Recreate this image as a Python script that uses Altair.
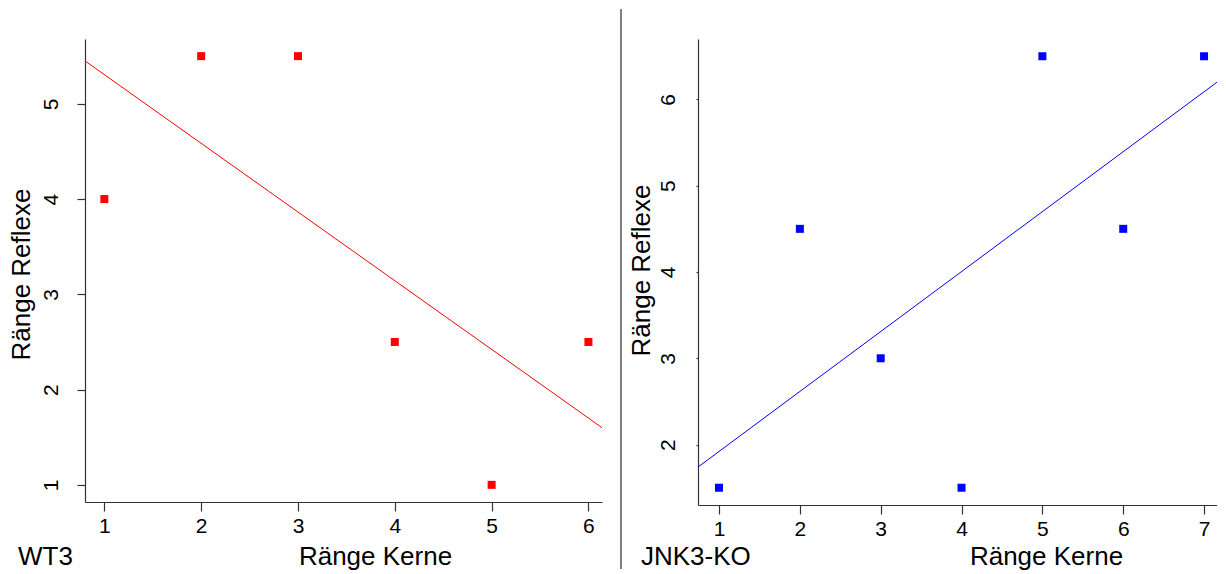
import altair as alt
import pandas as pd

# ---- data ----
wt_x = [1, 2, 3, 4, 5, 6]
wt_y = [4, 5.5, 5.5, 2.5, 1, 2.5]
ko_x = [1, 2, 3, 4, 5, 6, 7]
ko_y = [1.5, 4.5, 3, 1.5, 6.5, 4.5, 6.5]

wt_fit_x = [0.8, 6.14]
wt_fit_y = [5.45, 1.6]
ko_fit_x = [0.74, 7.16]
ko_fit_y = [1.74, 6.2]

wt_xticks = [1, 2, 3, 4, 5, 6]
wt_yticks = [1, 2, 3, 4, 5]
ko_xticks = [1, 2, 3, 4, 5, 6, 7]
ko_yticks = [2, 3, 4, 5, 6]

x_title = "Ränge Kerne"
y_title = "Ränge Reflexe"
panel_labels = ["WT3", "JNK3-KO"]

FONT = "Liberation Sans"
AXIS_COL = "#333333"


def panel(px, py, fx, fy, xdom, ydom, xticks, yticks, color, label,
          w, h, ytick, ylabpad, ytitlex, ytitley, xtitlex, xtitley,
          labx, laby, sep=None):
    pts = pd.DataFrame({"x": px, "y": py})
    fit = pd.DataFrame({"x": fx, "y": fy})
    xs = alt.Scale(domain=xdom, nice=False, zero=False)
    ys = alt.Scale(domain=ydom, nice=False, zero=False)
    xax = alt.Axis(values=xticks, format="d", grid=False, title=x_title,
                   domainColor=AXIS_COL, tickColor=AXIS_COL, domainWidth=1.2,
                   tickWidth=1.2, tickSize=9, labelFontSize=21, labelFont=FONT,
                   labelColor="black", labelPadding=4, labelFlush=False,
                   titleFont=FONT, titleFontSize=26, titleFontWeight="normal",
                   titleColor="black", titleAlign="center",
                   titleBaseline="alphabetic", titleX=xtitlex, titleY=xtitley)
    yax = alt.Axis(values=yticks, format="d", grid=False, title=y_title,
                   domainColor=AXIS_COL, tickColor=AXIS_COL, domainWidth=1.2,
                   tickWidth=1.2, tickSize=ytick, labelFontSize=21,
                   labelFont=FONT, labelColor="black", labelAngle=270,
                   labelAlign="center", labelBaseline="alphabetic",
                   labelPadding=ylabpad, labelFlush=False,
                   titleFont=FONT, titleFontSize=26, titleFontWeight="normal",
                   titleColor="black", titleAngle=270, titleAlign="center",
                   titleBaseline="alphabetic", titleX=ytitlex, titleY=ytitley)
    line = alt.Chart(fit).mark_line(color=color, strokeWidth=1, clip=True).encode(
        x=alt.X("x:Q", scale=xs, axis=xax),
        y=alt.Y("y:Q", scale=ys, axis=yax),
    )
    points = alt.Chart(pts).mark_point(shape="square", filled=True, size=64,
                                       color=color, opacity=1).encode(
        x=alt.X("x:Q", scale=xs),
        y=alt.Y("y:Q", scale=ys),
    )
    text = alt.Chart(pd.DataFrame({"t": [label]})).mark_text(
        align="left", baseline="alphabetic", fontSize=26, font=FONT,
        color="black").encode(x=alt.value(labx), y=alt.value(laby), text="t:N")
    layers = []
    if sep is not None:
        layers.append(alt.Chart(pd.DataFrame({"a": [0]})).mark_rule(
            color="#808080", strokeWidth=2).encode(
            x=alt.value(sep), y=alt.value(-30), y2=alt.value(530)))
    layers += [line, points, text]
    return alt.layer(*layers).properties(width=w, height=h)


left = panel(wt_x, wt_y, wt_fit_x, wt_fit_y, [0.8, 6.14], [0.82, 5.68],
             wt_xticks, wt_yticks, "#ff0000", panel_labels[0],
             517, 463, 8, 20, -56, 235, 290, 62, -67, 526)
right = panel(ko_x, ko_y, ko_fit_x, ko_fit_y, [0.74, 7.16], [1.3, 6.7],
              ko_xticks, ko_yticks, "#0000ff", panel_labels[1],
              519, 466, 2, 22, -49, 231, 348, 59, -57, 526, sep=-77)

chart = alt.hconcat(left, right, spacing=18).configure_view(
    stroke=None).properties(padding={"left": 0, "top": 0, "right": 0, "bottom": 0})

chart.save("out.html", embed_options={"renderer": "svg", "actions": False})
